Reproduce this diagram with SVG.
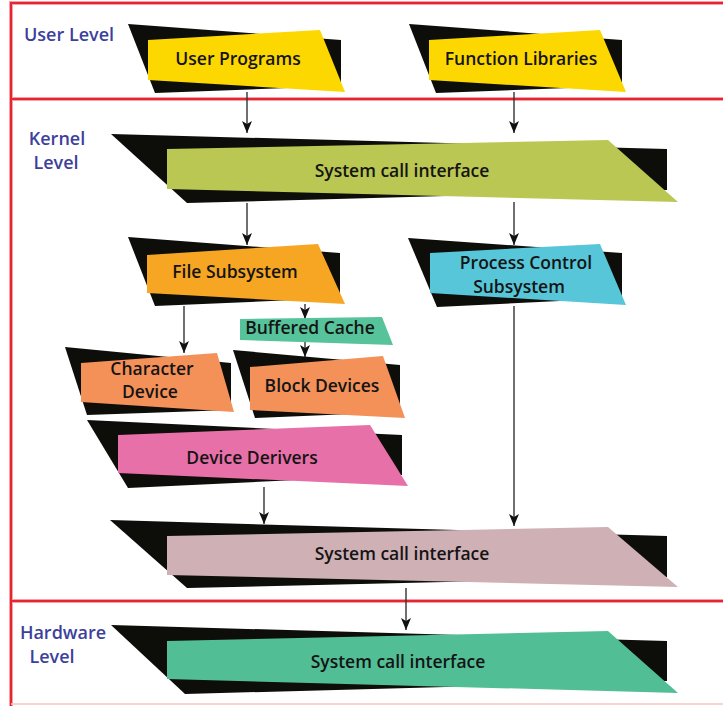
<svg xmlns="http://www.w3.org/2000/svg" width="723" height="706" viewBox="0 0 723 706">
<style>
.blk{fill:#0d0d0a}
.t{font-family:"Open Sans","Liberation Sans",sans-serif;font-weight:600;font-size:17.5px;fill:#141414;text-anchor:middle}
.lv{font-family:"Open Sans","Liberation Sans",sans-serif;font-weight:600;font-size:18px;fill:#3d3f9c;text-anchor:middle}
.halo{stroke:#f6a0a6;stroke-width:4;fill:none}
.red{stroke:#e52532;stroke-width:2;fill:none}
.c{stroke:#333;stroke-width:1.4;fill:none;marker-end:url(#ah)}
</style>
<defs>
<marker id="ah" viewBox="0 0 12 10" refX="12" refY="5" markerWidth="12" markerHeight="10" orient="auto" markerUnits="userSpaceOnUse">
<path d="M0,0 L12,5 L0,10 L3,5 z" fill="#111"/>
</marker>
</defs>
<rect width="723" height="706" fill="#fff"/>
<g id="frame">
<path class="halo" d="M11,706 V3 H723 M11,99 H723 M11,601 H723"/>
<path class="red" d="M11,706 V3 H723 M11,99 H723 M11,601 H723"/>
<path d="M11,704 H723" stroke="#f7c3c6" stroke-width="1.5"/>
</g>
<g id="labels">
<text class="lv" x="69" y="41">User Level</text>
<text class="lv" x="57" y="145">Kernel</text>
<text class="lv" x="56" y="169">Level</text>
<text class="lv" x="63" y="639">Hardware</text>
<text class="lv" x="52" y="663">Level</text>
</g>
<g id="connectors">
<path class="c" d="M247,92 V133"/>
<path class="c" d="M514,92 V133"/>
<path class="c" d="M247,203 V245"/>
<path class="c" d="M514,202 V245"/>
<path class="c" d="M184,306 V353"/>
<path class="c" d="M305,304 V319"/>
<path class="c" d="M305,340 V357"/>
<path class="c" d="M264,487 V524"/>
<path class="c" d="M514,306 V526"/>
<path class="c" d="M406,588 V630"/>
</g>
<g id="user-programs">
<polygon class="blk" points="128,24 341,40 341,86 155,93"/>
<polygon fill="#fdd800" points="148,40 320,30 345,92 148,80"/>
<text class="t" x="238" y="65">User Programs</text>
</g>
<g id="function-libraries">
<polygon class="blk" points="409,24 622,40 622,86 436,93"/>
<polygon fill="#fdd800" points="429,40 600,30 626,92 429,80"/>
<text class="t" x="521" y="65">Function Libraries</text>
</g>
<g id="kernel-sci">
<polygon class="blk" points="111,134 667,149 667,190 187,203"/>
<polygon fill="#bac752" points="167,149 608,140 678,202 167,189"/>
<text class="t" x="402" y="177">System call interface</text>
</g>
<g id="file-subsystem">
<polygon class="blk" points="128,237 340,253 340,298 155,306"/>
<polygon fill="#f6a623" points="147,255 318,244 345,304 147,293"/>
<text class="t" x="235" y="278">File Subsystem</text>
</g>
<g id="process-control">
<polygon class="blk" points="408,238 622,253 622,298 437,307"/>
<polygon fill="#56c6d8" points="430,253 600,244 626,305 430,293"/>
<text class="t" x="526" y="269">Process Control</text>
<text class="t" x="519" y="293">Subsystem</text>
</g>
<g id="buffered-cache">
<polygon fill="#56c39a" points="240,319 382,317 393,345 240,340"/>
<text class="t" x="310" y="334">Buffered Cache</text>
</g>
<g id="character-device">
<polygon class="blk" points="65,347 231,363 231,410 87,415"/>
<polygon fill="#f39159" points="81,363 217,353 234,412 81,402"/>
<text class="t" x="152" y="375">Character</text>
<text class="t" x="150" y="398">Device</text>
</g>
<g id="block-devices">
<polygon class="blk" points="233,350 400,365 400,412 255,418"/>
<polygon fill="#f39159" points="250,367 383,356 405,418 250,410"/>
<text class="t" x="322" y="392">Block Devices</text>
</g>
<g id="device-derivers">
<polygon class="blk" points="87,420 402,435 402,475 128,488"/>
<polygon fill="#e870a8" points="118,435 370,425 408,486 118,473"/>
<text class="t" x="252" y="464">Device Derivers</text>
</g>
<g id="kernel-sci-lower">
<polygon class="blk" points="110,520 667,536 667,577 187,588"/>
<polygon fill="#cfb0b5" points="167,536 608,527 678,587 167,575"/>
<text class="t" x="402" y="560">System call interface</text>
</g>
<g id="hardware-sci">
<polygon class="blk" points="111,625 667,641 667,681 185,694"/>
<polygon fill="#52be95" points="167,641 608,631 678,693 167,679"/>
<text class="t" x="398" y="668">System call interface</text>
</g>
</svg>
